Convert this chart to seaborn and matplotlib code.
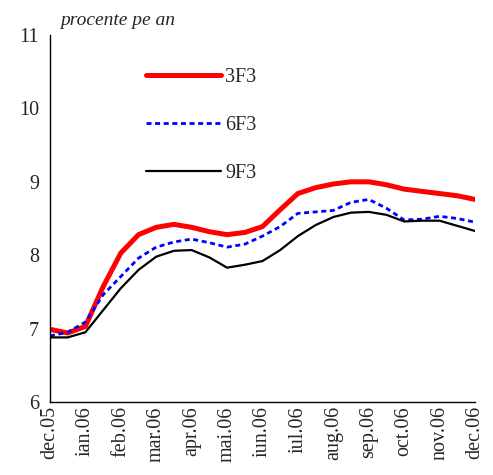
import numpy as np
import pandas as pd
import matplotlib
matplotlib.use("Agg")
import matplotlib.pyplot as plt
import seaborn as sns

# Month tick labels
months = ["dec.05", "ian.06", "feb.06", "mar.06", "apr.06", "mai.06", "iun.06",
          "iul.06", "aug.06", "sep.06", "oct.06", "nov.06", "dec.06"]

# Observations every half month (position in months from dec.05)
t_months = [0, 0.5, 1, 1.5, 2, 2.5, 3, 3.5, 4, 4.5, 5, 5.5, 6,
            6.5, 7, 7.5, 8, 8.5, 9, 9.5, 10, 10.5, 11, 11.5, 12]

r_3f3 = [6.99, 6.94, 7.03, 7.57, 8.03, 8.28, 8.38, 8.42, 8.38, 8.32, 8.28, 8.31, 8.39,
         8.62, 8.84, 8.92, 8.97, 9.00, 9.00, 8.96, 8.90, 8.87, 8.84, 8.81, 8.76]
r_6f3 = [6.90, 6.95, 7.09, 7.46, 7.71, 7.96, 8.11, 8.18, 8.22, 8.17, 8.11, 8.15, 8.26,
         8.39, 8.57, 8.59, 8.61, 8.72, 8.76, 8.64, 8.48, 8.49, 8.53, 8.50, 8.45]
r_9f3 = [6.88, 6.88, 6.95, 7.25, 7.55, 7.80, 7.98, 8.06, 8.07, 7.97, 7.83, 7.87, 7.92,
         8.07, 8.26, 8.41, 8.52, 8.58, 8.59, 8.55, 8.46, 8.47, 8.47, 8.40, 8.33]

series_names = ["3F3", "6F3", "9F3"]
y_ticks = [6, 7, 8, 9, 10, 11]

df = pd.DataFrame({"t": t_months, "3F3": r_3f3, "6F3": r_6f3, "9F3": r_9f3})

sns.set_theme(style="white")
plt.rcParams["font.family"] = ["Liberation Serif", "DejaVu Serif"]

fig = plt.figure(figsize=(4.93, 4.75), dpi=100)
ax = fig.add_axes([0.1014, 0.1537, 0.862, 0.7726])

styles = {
    "3F3": dict(color="#ff0000", linewidth=3.6, linestyle="-"),
    "6F3": dict(color="#0000ff", linewidth=2.0, linestyle=(0, (1.8, 1.3))),
    "9F3": dict(color="#000000", linewidth=1.6, linestyle="-"),
}
for name in series_names:
    st = styles[name]
    sns.lineplot(data=df, x="t", y=name, ax=ax, label=name, color=st["color"],
                 linewidth=st["linewidth"], linestyle=st["linestyle"],
                 solid_capstyle="round", dash_capstyle="butt")

ax.set_xlim(0, 12)
ax.set_ylim(6, 11)
ax.set_yticks(y_ticks)
ax.set_yticklabels([str(v) for v in y_ticks], fontsize=14.5)
ax.set_xticks(range(len(months)))
ax.set_xticklabels(months, rotation=90, fontsize=14.5)
ax.set_xlabel("")
ax.set_ylabel("")
ax.tick_params(axis="y", direction="out", length=5, width=1, color="black", pad=3)
ax.tick_params(axis="x", direction="out", length=0, pad=3)
ax.set_xticks([0, 12], minor=True)
ax.tick_params(axis="x", which="minor", direction="out", length=5, width=1, color="black")

for s in ["top", "right"]:
    ax.spines[s].set_visible(False)
for s in ["left", "bottom"]:
    ax.spines[s].set_color("black")
    ax.spines[s].set_linewidth(1)

leg = ax.legend(loc="upper left", bbox_to_anchor=(0.206, 0.933), frameon=False,
                fontsize=14.5, handlelength=3.75, handletextpad=0.2,
                labelspacing=1.45, borderaxespad=0)

ax.text(0.025, 1.016, "procente pe an", transform=ax.transAxes, fontsize=14,
        style="italic", ha="left", va="bottom")

fig.savefig("out.png", dpi=100)
